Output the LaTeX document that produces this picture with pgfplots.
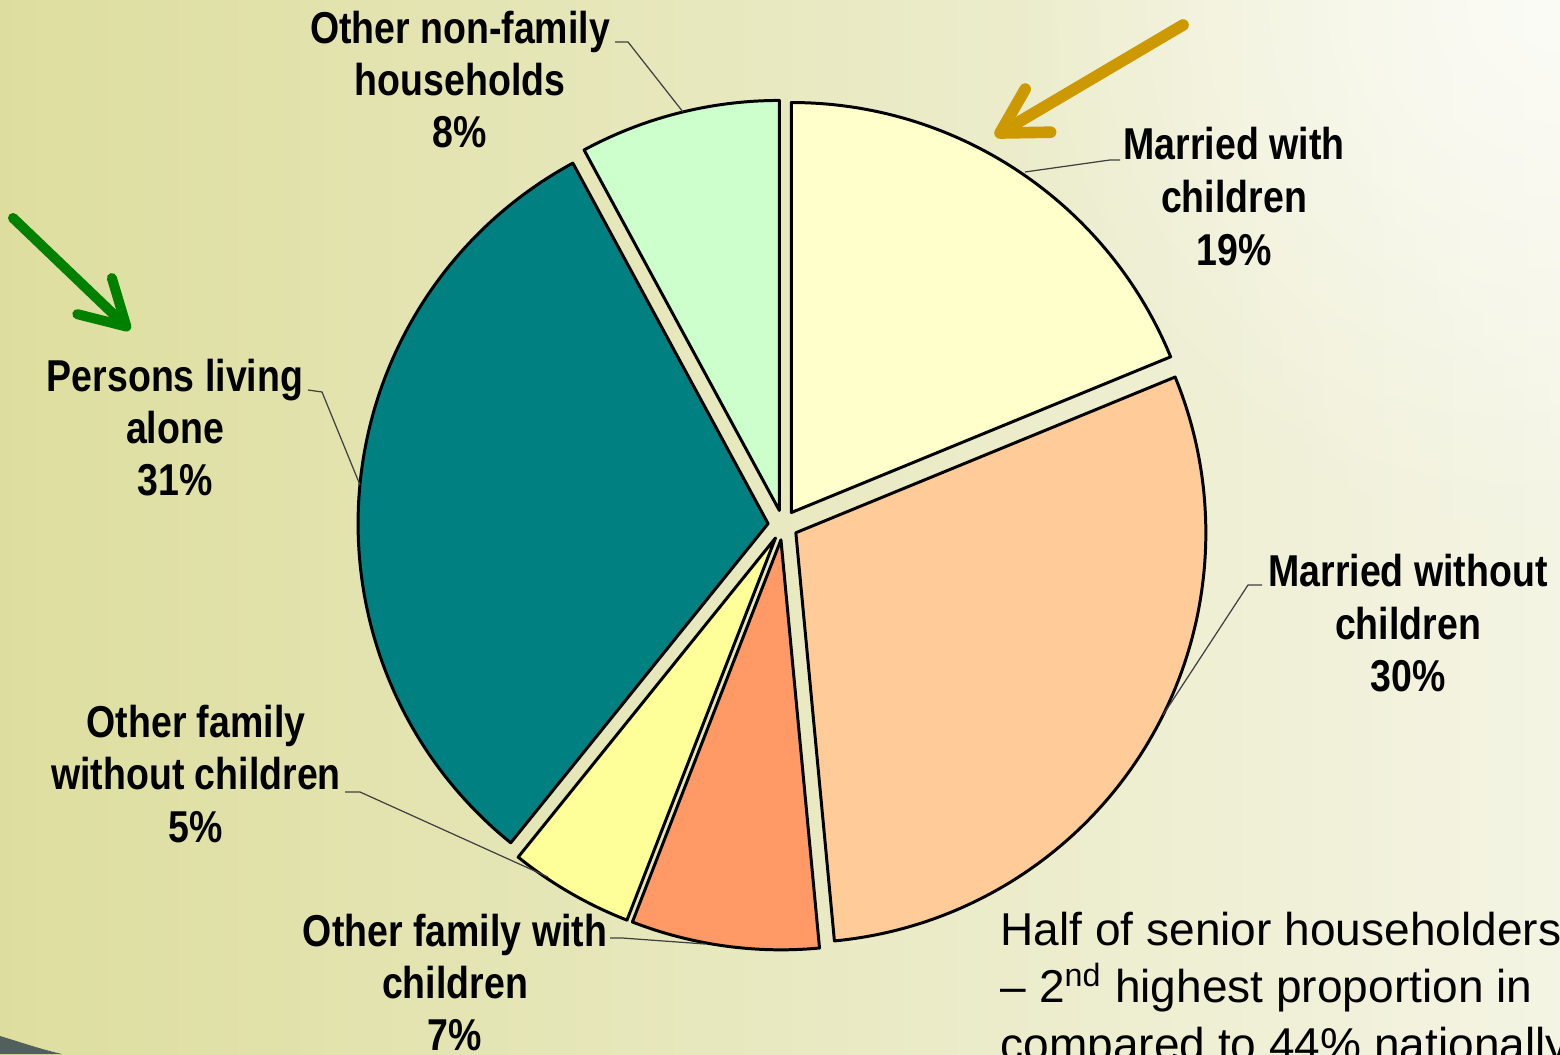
\documentclass[border=0pt]{standalone}
\usepackage{pgfplots}
\pgfplotsset{compat=1.18}
\usepackage{pgfplotstable}
\usepackage{fontspec}
\setmainfont{Liberation Sans}
\newfontfamily\labfont{Liberation Sans}[FakeStretch=0.84]
\usetikzlibrary{arrows.meta,fadings}
\tikzfading[name=glow, inner color=transparent!0, outer color=transparent!100]

\definecolor{bgleft}{RGB}{221,222,158}
\definecolor{bgmid}{RGB}{233,233,194}
\definecolor{bgright}{RGB}{244,244,228}
\definecolor{swoosh}{RGB}{82,96,92}
\definecolor{sliceA}{HTML}{FFFFCC}
\definecolor{sliceB}{HTML}{FFCC99}
\definecolor{sliceC}{HTML}{FF9966}
\definecolor{sliceD}{HTML}{FFFF99}
\definecolor{sliceE}{HTML}{008080}
\definecolor{sliceF}{HTML}{CCFFCC}
\definecolor{arrgreen}{RGB}{0,128,0}
\definecolor{arrgold}{RGB}{204,153,0}

% shares of senior householders, clockwise from 12 o'clock
\pgfplotstableread{
value colour
18.8 sliceA
29.7 sliceB
7.4  sliceC
4.9  sliceD
31.3 sliceE
7.9  sliceF
}\piedata

\newcommand{\lab}[3]{\node[font=\labfont\bfseries\fontsize{12.7}{15}\selectfont,
  anchor=base, inner sep=0pt] at (axis cs:#1,#2) {#3};}

\begin{document}
\begin{tikzpicture}
\path[use as bounding box] (0,0) rectangle (15.6,10.54);
\clip (0,0) rectangle (15.6,10.54);
\shade[left color=bgleft, middle color=bgmid, right color=bgright] (0,0) rectangle (15.6,10.54);
\fill[white, opacity=0.7, path fading=glow] (15.6,10.54) circle (5.5);
\fill[swoosh] (0,0) -- (0,0.18) .. controls (0.2,0.12) and (0.4,0.05) .. (0.62,0) -- cycle;

\begin{axis}[at={(0,0)}, anchor=south west, x=1cm, y=1cm,
  xmin=0, xmax=15.6, ymin=0, ymax=10.54, hide axis, clip=false]

\pgfplotstablegetrowsof{\piedata}
\pgfmathtruncatemacro\nrows{\pgfplotsretval-1}
\def\angstart{90}
\pgfplotsforeachungrouped \i in {0,...,\nrows}{%
  \pgfplotstablegetelem{\i}{value}\of\piedata \let\val\pgfplotsretval
  \pgfplotstablegetelem{\i}{colour}\of\piedata \let\col\pgfplotsretval
  \pgfmathsetmacro\angend{\angstart-3.6*\val}
  \pgfmathsetmacro\angmid{(\angstart+\angend)/2}
  \pgfmathsetmacro\cx{7.83+0.15*cos(\angmid)}
  \pgfmathsetmacro\cy{5.29+0.15*sin(\angmid)}
  \pgfmathsetmacro\sx{\cx+4.10*cos(\angstart)}
  \pgfmathsetmacro\sy{\cy+4.10*sin(\angstart)}
  \edef\slice{\noexpand\filldraw[fill=\col, draw=black, line width=0.85pt, line join=round]
    (axis cs:\cx,\cy) -- (axis cs:\sx,\sy)
    arc[start angle=\angstart, end angle=\angend, radius=4.10] -- cycle;}
  \slice
  \global\let\angstart\angend
}

% leader lines
\draw[black!75, line width=0.35pt] (axis cs:6.15,10.12) -- (axis cs:6.28,10.12) -- (axis cs:6.83,9.42);
\draw[black!75, line width=0.35pt] (axis cs:11.20,8.94) -- (axis cs:11.10,8.94) -- (axis cs:10.25,8.82);
\draw[black!75, line width=0.35pt] (axis cs:12.62,4.69) -- (axis cs:12.48,4.69) -- (axis cs:11.63,3.39);
\draw[black!75, line width=0.35pt] (axis cs:3.08,6.64) -- (axis cs:3.22,6.62) -- (axis cs:3.60,5.69);
\draw[black!75, line width=0.35pt] (axis cs:3.45,2.62) -- (axis cs:3.60,2.62) -- (axis cs:5.48,1.77);
\draw[black!75, line width=0.35pt] (axis cs:6.10,1.16) -- (axis cs:6.22,1.16) -- (axis cs:7.05,1.10);

% slice labels
\lab{4.60}{10.10}{Other non-family}
\lab{4.60}{9.58}{households}
\lab{4.60}{9.06}{8\%}
\lab{12.34}{8.94}{Married with}
\lab{12.34}{8.41}{children}
\lab{12.34}{7.88}{19\%}
\lab{14.08}{4.67}{Married without}
\lab{14.08}{4.14}{children}
\lab{14.08}{3.62}{30\%}
\lab{1.75}{6.62}{Persons living}
\lab{1.75}{6.10}{alone}
\lab{1.75}{5.58}{31\%}
\lab{1.96}{3.16}{Other family}
\lab{1.96}{2.64}{without children}
\lab{1.96}{2.11}{5\%}
\lab{4.55}{1.08}{Other family with}
\lab{4.55}{0.56}{children}
\lab{4.55}{0.04}{7\%}

% callout arrows
\draw[arrgreen, line width=2.85pt, line cap=round, -{Straight Barb[length=4.4mm, width=5mm, round]}]
  (axis cs:0.13,8.36) -- (axis cs:1.30,7.24);
\draw[arrgold, line width=3.3pt, line cap=round, -{Straight Barb[length=4.4mm, width=5mm, round]}]
  (axis cs:11.83,10.29) -- (axis cs:9.95,9.18);

% note text
\node[anchor=base west, inner sep=0pt, font=\fontsize{13.1}{16.5}\selectfont] at (axis cs:10.00,1.09) {Half of senior householders};
\node[anchor=base west, inner sep=0pt, font=\fontsize{13.1}{16.5}\selectfont] at (axis cs:10.00,0.52) {– 2\textsuperscript{nd} highest proportion in};
\node[anchor=base west, inner sep=0pt, font=\fontsize{13.1}{16.5}\selectfont] at (axis cs:10.00,-0.06) {compared to 44\% nationally};
\end{axis}
\end{tikzpicture}
\end{document}
